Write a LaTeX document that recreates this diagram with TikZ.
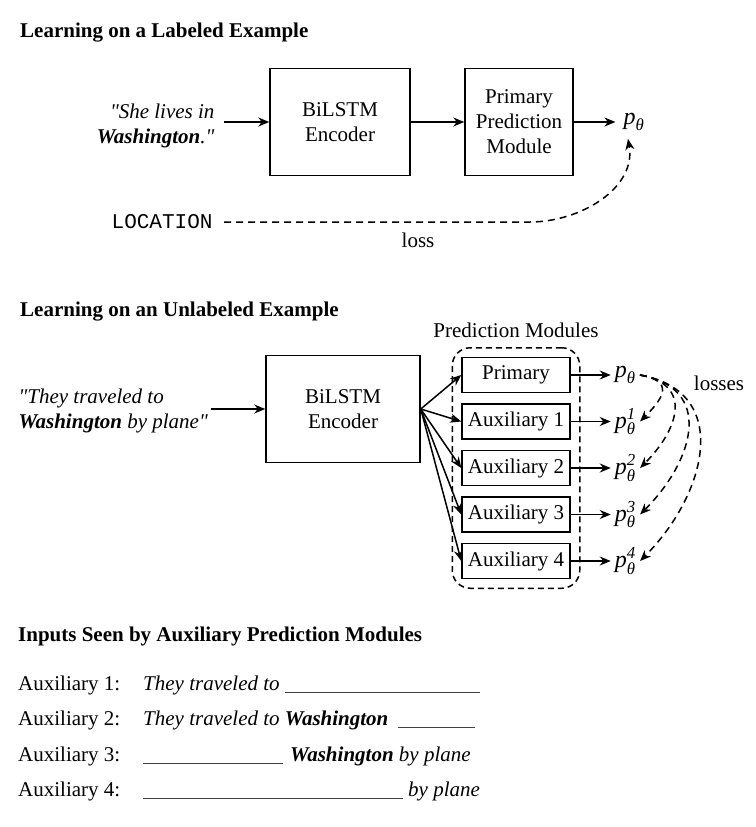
\documentclass[tikz,border=0pt]{standalone}
\usepackage{fontspec}
\setmainfont{Liberation Serif}
\setmonofont{Liberation Mono}
\usepackage{amsmath}
\usetikzlibrary{positioning,arrows.meta,fit}

\tikzset{
  block/.style={draw, line width=1.5pt, align=center, inner sep=0pt},
  modbox/.style={block, minimum width=108pt, minimum height=35pt},
  arr/.style={-{Stealth[length=11pt,width=9pt]}, line width=1.5pt},
  lossline/.style={arr, dash pattern=on 7pt off 5pt},
  prob/.style={font=\fontsize{24}{28}\selectfont, inner sep=4pt},
  heading/.style={anchor=west, inner sep=0pt, font=\fontsize{21}{25}\selectfont\bfseries},
  rowtext/.style={anchor=base west, inner sep=0pt},
}
\newcommand{\blank}[1]{\textcolor{black!75}{\rule[-3pt]{#1}{1pt}}}
\newcommand{\qq}{\textquotedbl}

\begin{document}
\begin{tikzpicture}[x=1pt,y=1pt,font=\fontsize{21}{25}\selectfont]
    \useasboundingbox (0,0) rectangle (755,-827);

    % labeled example
    \node[heading] (lab) at (20,-33) {Learning on a Labeled Example};
    \node[align=right, anchor=east] (sent1) at (218,-126) {\textit{\qq She lives in}\\\textbf{\textit{Washington}}\textit{.\qq}};
    \node[block, minimum width=140pt, minimum height=107pt] (enc1) at (340,-122) {BiLSTM\\Encoder};
    \node[block, minimum width=108pt, minimum height=107pt] (ppm) at (519,-122) {Primary\\Prediction\\Module};
    \node[prob] (out1) at (634,-122) {$\textit{p}_{\textit{θ}}$};
    \node[anchor=east] (loc) at (216,-222) {\texttt{LOCATION}};
    \node (loss) at (418,-240) {loss};
    \coordinate (bend1) at (530,-222);

    \draw[arr] ([xshift=6pt]sent1.east |- enc1) -- (enc1);
    \draw[arr] (enc1) -- (ppm);
    \draw[arr] (ppm) -- ([xshift=-4pt]out1.west);
    \draw[lossline] ([xshift=8pt]loc.east) -- (bend1) to[out=0,in=-80] ([xshift=-6pt,yshift=-4pt]out1.south);

    % unlabeled example
    \node[heading] (unlab) at (20,-312) {Learning on an Unlabeled Example};
    \node[align=left, anchor=west] (sent2) at (15,-411) {\textit{\qq They traveled to}\\\textbf{\textit{Washington}} \textit{by plane\qq}};
    \node[block, minimum width=154pt, minimum height=107pt] (enc2) at (343,-409) {BiLSTM\\Encoder};

    \node[modbox] (prim) at (516,-375) {Primary};
    \node[modbox, below=10pt of prim] (aux1) {Auxiliary 1};
    \node[modbox, below=10pt of aux1] (aux2) {Auxiliary 2};
    \node[modbox, below=10pt of aux2] (aux3) {Auxiliary 3};
    \node[modbox, below=10pt of aux3] (aux4) {Auxiliary 4};
    \node[draw, dash pattern=on 6pt off 4pt, rounded corners=18pt, line width=1.5pt, inner sep=9pt, fit=(prim)(aux4)] (frame) {};
    \node (pm) at ([yshift=17pt]frame.north) {Prediction Modules};

    \node[prob, right=40pt of prim] (q0) {$\textit{p}_{\textit{θ}}$};
    \node[prob, right=40pt of aux1] (q1) {$\textit{p}^{\textit{1}}_{\textit{θ}}$};
    \node[prob, right=40pt of aux2] (q2) {$\textit{p}^{\textit{2}}_{\textit{θ}}$};
    \node[prob, right=40pt of aux3] (q3) {$\textit{p}^{\textit{3}}_{\textit{θ}}$};
    \node[prob, right=40pt of aux4] (q4) {$\textit{p}^{\textit{4}}_{\textit{θ}}$};
    \node (losses) at (719,-383) {losses};

    \draw[arr] (sent2.east |- enc2) -- (enc2);
    \foreach \m/\q in {prim/q0,aux1/q1,aux2/q2,aux3/q3,aux4/q4}{
        \draw[arr] (enc2.east) -- (\m.west);
        \draw[arr] (\m) -- (\q);
    }
    \foreach \q/\l in {q1/1.9,q2/1.5,q3/1.4,q4/1.3}
        \draw[lossline] (q0.east) to[out=-10,in=45,looseness=\l] (\q.east);

    % inputs of the auxiliary modules
    \node[heading] (seen) at (18,-636) {Inputs Seen by Auxiliary Prediction Modules};
    \node[rowtext] (row1) at (18,-690) {Auxiliary 1:};
    \node[rowtext] (row2) at (18,-725) {Auxiliary 2:};
    \node[rowtext] (row3) at (18,-761) {Auxiliary 3:};
    \node[rowtext] (row4) at (18,-796) {Auxiliary 4:};
    \node[rowtext] (in1) at (143,-690) {\textit{They traveled to} \blank{195pt}};
    \node[rowtext] (in2) at (143,-725) {\textit{They traveled to} \textbf{\textit{Washington}}\hspace{10pt}\blank{77pt}};
    \node[rowtext] (in3) at (143,-761) {\blank{140pt}\hspace{7pt}\textbf{\textit{Washington}} \textit{by plane}};
    \node[rowtext] (in4) at (143,-796) {\blank{260pt}\hspace{5pt}\textit{by plane}};
\end{tikzpicture}
\end{document}
